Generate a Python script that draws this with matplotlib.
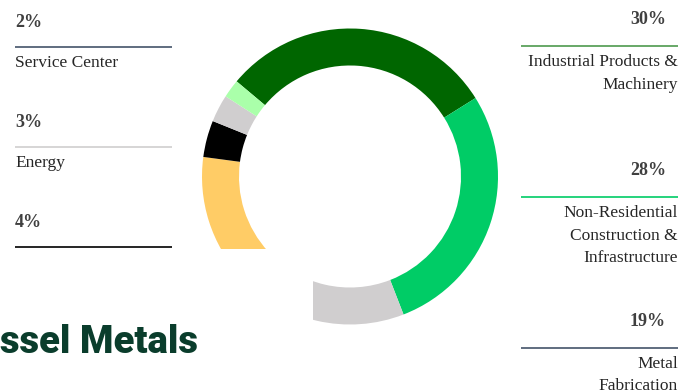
import matplotlib
matplotlib.use("Agg")
import matplotlib.pyplot as plt
from matplotlib.patches import Rectangle

# end-market shares, clockwise from the top-left
segments = ["Industrial Products & Machinery", "Non-Residential Construction & Infrastructure",
            "Metal Fabrication", "Other", "Energy-4", "Energy", "Service Center"]
shares = [30, 28, 19, 14, 4, 3, 2]
seg_colors = ["#006600", "#00CC66", "#D0CECF", "#FFCC66", "#000000", "#D0CECF", "#AAFFAA"]

# callouts
left_pct = ["2%", "3%", "4%"]
left_cap = ["Service Center", "Energy", ""]
left_rule = ["#44546A", "#D0CECE", "#000000"]
left_y = [47, 147, 247]

right_pct = ["30%", "28%", "19%"]
right_cap = [["Industrial Products &", "Machinery"],
             ["Non-Residential", "Construction &", "Infrastructure"],
             ["Metal", "Fabrication"]]
right_rule = ["#4E9A4E", "#00CC66", "#44546A"]
right_y = [46, 197, 348]

W, H = 682, 392
fig = plt.figure(figsize=(W / 100, H / 100), dpi=100)
ax = fig.add_axes([0, 0, 1, 1])

# donut, centre/radius in pixel units (y measured upward)
ax.pie(shares, colors=seg_colors, startangle=140, counterclock=False,
       center=(350, H - 176.5), radius=148, frame=True,
       wedgeprops=dict(width=37, edgecolor="none", linewidth=0))
ax.set_xlim(0, W)
ax.set_ylim(0, H)
ax.set_aspect("equal")
ax.axis("off")

# logo panel over the lower-left of the ring
ax.add_patch(Rectangle((0, 0), 313, H - 249, facecolor="white", edgecolor="none", zorder=5))
ax.text(198, H - 353, "ssel Metals", ha="right", va="baseline", fontsize=27.5,
        fontweight="black", family="Roboto", color="#0A3D2C", zorder=6)

serif = "Liberation Serif"
pct_col = "#404040"
cap_col = "#262626"

for pct, cap, rc, y in zip(left_pct, left_cap, left_rule, left_y):
    ax.plot([15, 172], [H - y, H - y], color=rc, lw=1.2, solid_capstyle="butt")
    ax.text(15, H - y + 25, pct, ha="left", va="center", fontsize=13, fontweight="bold",
            family=serif, color=pct_col)
    if cap:
        ax.text(15, H - y - 16, cap, ha="left", va="center", fontsize=12.5,
                family=serif, color=cap_col)

for pct, caps, rc, y in zip(right_pct, right_cap, right_rule, right_y):
    ax.plot([521, 678], [H - y, H - y], color=rc, lw=1.2, solid_capstyle="butt")
    ax.text(666, H - y + 27, pct, ha="right", va="center", fontsize=13, fontweight="bold",
            family=serif, color=pct_col)
    for i, line in enumerate(caps):
        ax.text(678, H - y - 16 - 22.5 * i, line, ha="right", va="center", fontsize=12.5,
                family=serif, color=cap_col)

fig.savefig("out.png", dpi=100, facecolor="white")
